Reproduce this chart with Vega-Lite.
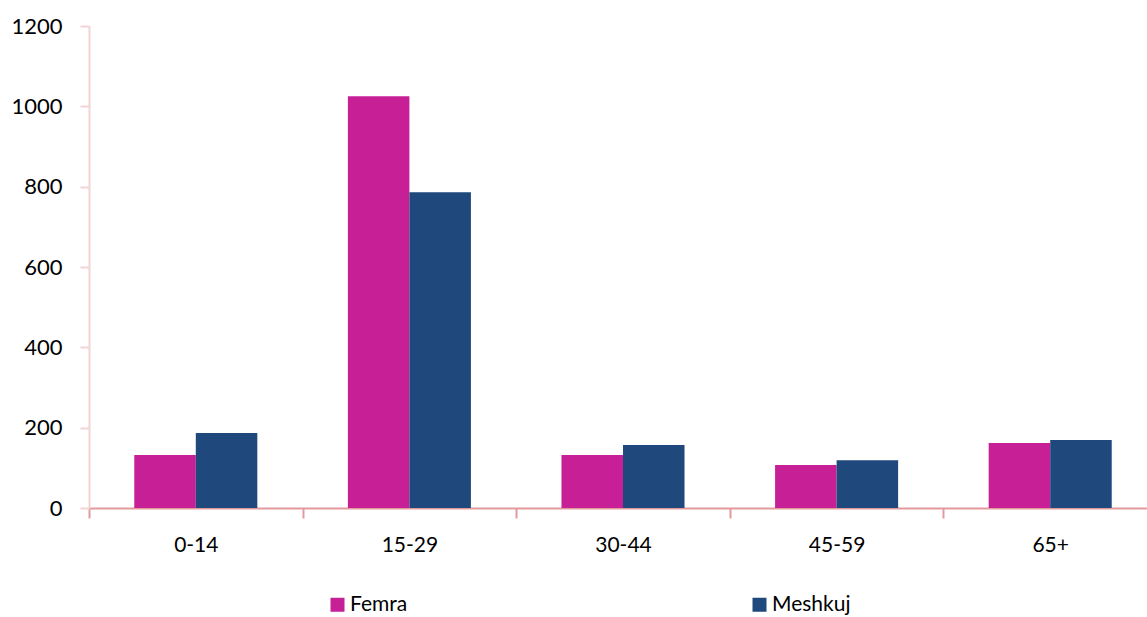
{
  "$schema": "https://vega.github.io/schema/vega-lite/v6.json",
  "width": 1068,
  "height": 482,
  "autosize": {"type": "none"},
  "padding": {"left": 89, "top": 26, "right": 0, "bottom": 109},
  "background": "white",
  "config": {"view": {"stroke": null}, "font": "Lato"},
  "data": {
    "values": [
      {"age": "0-14", "sex": "Femra", "value": 132},
      {"age": "0-14", "sex": "Meshkuj", "value": 187},
      {"age": "15-29", "sex": "Femra", "value": 1025},
      {"age": "15-29", "sex": "Meshkuj", "value": 786},
      {"age": "30-44", "sex": "Femra", "value": 132},
      {"age": "30-44", "sex": "Meshkuj", "value": 157},
      {"age": "45-59", "sex": "Femra", "value": 107},
      {"age": "45-59", "sex": "Meshkuj", "value": 119},
      {"age": "65+", "sex": "Femra", "value": 162},
      {"age": "65+", "sex": "Meshkuj", "value": 169}
    ]
  },
  "mark": {"type": "bar"},
  "encoding": {
    "x": {
      "field": "age",
      "type": "nominal",
      "sort": null,
      "scale": {"paddingInner": 0, "paddingOuter": 0},
      "axis": {
        "title": null,
        "labelAngle": 0,
        "tickBand": "extent",
        "domainColor": "#e39a9d",
        "domainWidth": 2,
        "tickColor": "#e39a9d",
        "tickWidth": 2,
        "tickSize": 10,
        "labelFontSize": 21,
        "labelColor": "#000000",
        "labelPadding": 16,
        "grid": false
      }
    },
    "xOffset": {
      "field": "sex",
      "type": "nominal",
      "scale": {"paddingInner": 0, "paddingOuter": 0.736}
    },
    "y": {
      "field": "value",
      "type": "quantitative",
      "scale": {"domain": [0, 1200], "nice": false},
      "axis": {
        "title": null,
        "format": "d",
        "values": [0, 200, 400, 600, 800, 1000, 1200],
        "grid": false,
        "domainColor": "#f2d4d5",
        "domainWidth": 2,
        "tickColor": "#f2d4d5",
        "tickWidth": 2,
        "tickSize": 9,
        "labelFontSize": 22,
        "labelColor": "#000000",
        "labelPadding": 18
      }
    },
    "color": {
      "field": "sex",
      "type": "nominal",
      "scale": {"domain": ["Femra", "Meshkuj"], "range": ["#C71F96", "#1F497D"]},
      "legend": {
        "title": null,
        "orient": "none",
        "legendX": 238,
        "legendY": 568,
        "direction": "horizontal",
        "symbolType": "square",
        "symbolSize": 196,
        "symbolStrokeWidth": 0,
        "labelFontSize": 21,
        "labelColor": "#000000",
        "labelOffset": 2,
        "columnPadding": 341
      }
    }
  }
}
